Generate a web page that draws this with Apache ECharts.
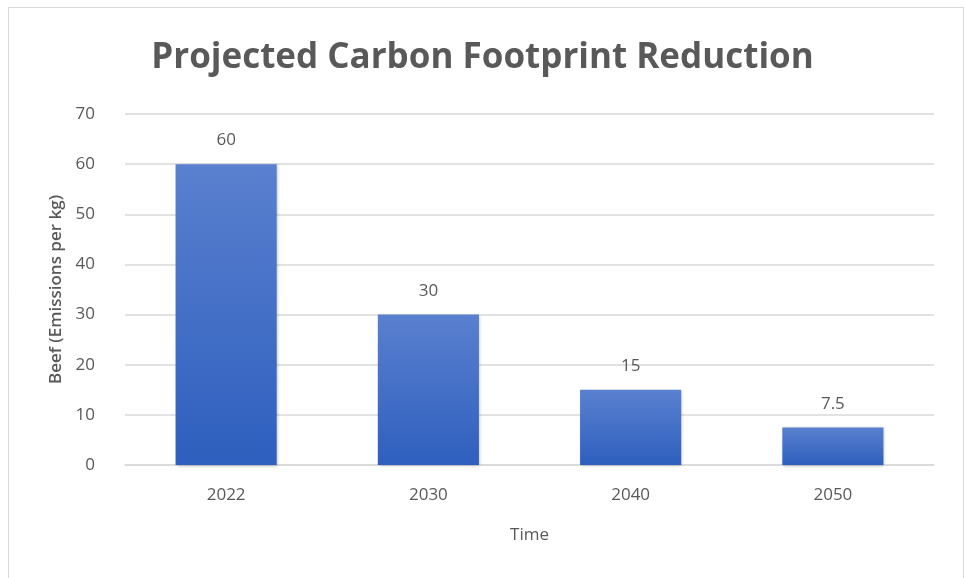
<!DOCTYPE html>
<html><head><meta charset="utf-8">
<script src="https://cdn.jsdelivr.net/npm/echarts@6/dist/echarts.min.js"></script>
<style>html,body{margin:0;padding:0;background:#fff}#c{width:965px;height:578px}</style>
</head><body><div id="c"></div>
<script>
const categories = ['2022', '2030', '2040', '2050'];
const values = [60, 30, 15, 7.5];
const yTicks = [0, 10, 20, 30, 40, 50, 60, 70];

const chart = echarts.init(document.getElementById('c'), null, {renderer: 'canvas'});
const font = '"Open Sans", "Noto Sans", sans-serif';
chart.setOption({
  backgroundColor: '#fff',
  animation: false,
  graphic: [{
    type: 'rect', shape: {x: 8.5, y: 7.5, width: 955, height: 580},
    style: {fill: 'none', stroke: '#d9d9d9', lineWidth: 1}, silent: true
  }],
  title: {
    text: 'Projected Carbon Footprint Reduction',
    left: 'center', top: 36,
    textStyle: {fontFamily: font, fontWeight: 'bold', fontSize: 35, color: '#595959'}
  },
  grid: {left: 125, right: 31, top: 114, bottom: 113},
  xAxis: {
    type: 'category', data: categories,
    name: 'Time', nameLocation: 'middle', nameGap: 62,
    nameTextStyle: {fontFamily: font, fontSize: 17, color: '#595959'},
    axisLine: {show: true, lineStyle: {color: '#d9d9d9', width: 1.5}},
    axisTick: {show: false},
    axisLabel: {fontFamily: font, fontSize: 17, color: '#595959', margin: 22}
  },
  yAxis: {
    type: 'value', min: yTicks[0], max: yTicks[yTicks.length - 1], interval: 10,
    name: 'Beef (Emissions per kg)', nameLocation: 'middle', nameGap: 60,
    nameTextStyle: {fontFamily: font, fontSize: 17, fontWeight: 600, color: '#595959'},
    axisLine: {show: false}, axisTick: {show: false},
    axisLabel: {fontFamily: font, fontSize: 17, color: '#595959', margin: 30},
    splitLine: {lineStyle: {color: '#d9d9d9', width: 1.5}}
  },
  series: [{
    type: 'bar', data: values, barWidth: '50%',
    itemStyle: {
      color: new echarts.graphic.LinearGradient(0, 0, 0, 1, [
        {offset: 0, color: '#5a80cf'}, {offset: 1, color: '#2e5fbe'}
      ]),
      shadowColor: 'rgba(0,0,0,0.25)', shadowBlur: 3, shadowOffsetX: 1, shadowOffsetY: 1
    },
    label: {show: true, position: 'top', distance: 15, fontFamily: font, fontSize: 17, color: '#595959'}
  }]
});
</script></body></html>
